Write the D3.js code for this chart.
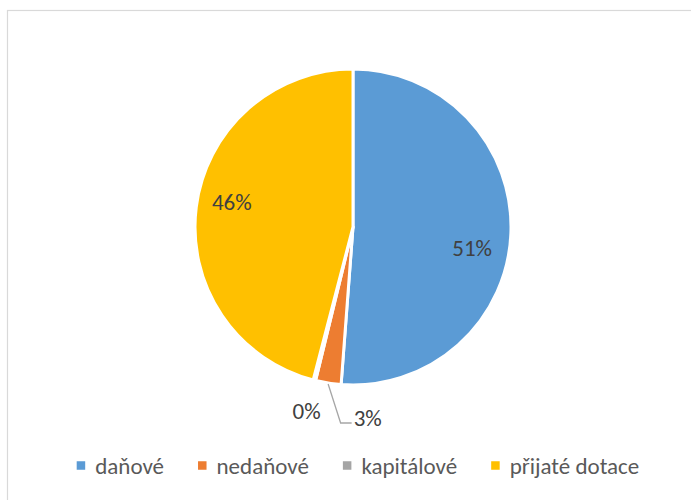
<!DOCTYPE html>
<html>
<head>
<meta charset="utf-8">
<script src="https://cdn.jsdelivr.net/npm/d3@7"></script>
<style>
  html, body { margin: 0; padding: 0; background: #ffffff; }
  svg { display: block; }
  text { font-family: Carlito, Calibri, Lato, "Open Sans", sans-serif; }
</style>
</head>
<body>
<svg id="chart" width="691" height="500"></svg>
<script>
// ---- data ----
const categories = ["daňové", "nedaňové", "kapitálové", "přijaté dotace"];
const values = [51.2, 2.6, 0.25, 45.95];
const labels = ["51%", "3%", "0%", "46%"];
const colors = ["#5b9bd5", "#ed7d31", "#a5a5a5", "#ffc000"];

// ---- layout ----
const W = 691, H = 500;
const cx = 353, cy = 227, R = 158;
const fontSize = 23;

const svg = d3.select("#chart");

// chart border (extends beyond the window on right / bottom)
svg.append("rect")
  .attr("x", 7.5).attr("y", 10.5)
  .attr("width", 720).attr("height", 520)
  .attr("fill", "none").attr("stroke", "#d9d9d9").attr("stroke-width", 1.2);

const color = d3.scaleOrdinal().domain(categories).range(colors);

const pie = d3.pie().sort(null).value(d => d.value);
const data = categories.map((c, i) => ({ name: c, value: values[i], label: labels[i] }));
const arcs = pie(data);

const arc = d3.arc().innerRadius(0).outerRadius(R);

const g = svg.append("g").attr("transform", `translate(${cx},${cy})`);

g.selectAll("path.slice")
  .data(arcs)
  .join("path")
  .attr("class", "slice")
  .attr("d", arc)
  .attr("fill", d => color(d.data.name))
  .attr("stroke", "#ffffff")
  .attr("stroke-width", 3)
  .attr("stroke-linejoin", "round");

// label placement rules (layout): polar position relative to slice mid-angle
const labelRules = {
  "daňové": { mode: "inside", r: 121, dAngle: 7.8 },
  "přijaté dotace": { mode: "inside", r: 123.7, dAngle: 4.2 },
  "kapitálové": { mode: "outside", r: 190, dAngle: 0 },
  "nedaňové": { mode: "leader", r: 0, dAngle: 0 }
};
const deg = Math.PI / 180;
function polar(angle, r) { return [r * Math.sin(angle), -r * Math.cos(angle)]; }

arcs.forEach(d => {
  const rule = labelRules[d.data.name];
  const mid = (d.startAngle + d.endAngle) / 2;
  if (rule.mode === "leader") {
    const p0 = polar(mid, R + 1);
    const elbow = [p0[0] + 12.5, 196];
    const p2 = [elbow[0] + 11, 196];
    g.append("polyline")
      .attr("points", [p0, elbow, p2].map(p => p.join(",")).join(" "))
      .attr("fill", "none").attr("stroke", "#a6a6a6").attr("stroke-width", 1.3);
    g.append("text")
      .attr("x", p2[0] + 2).attr("y", p2[1] - 5)
      .attr("dy", "0.35em")
      .attr("text-anchor", "start")
      .attr("font-size", fontSize)
      .attr("fill", "#404040")
      .text(d.data.label);
  } else {
    const p = polar(mid + rule.dAngle * deg, rule.r);
    g.append("text")
      .attr("x", p[0]).attr("y", p[1])
      .attr("dy", "0.35em")
      .attr("text-anchor", "middle")
      .attr("font-size", fontSize)
      .attr("fill", "#404040")
      .text(d.data.label);
  }
});

// ---- legend ----
const legend = svg.append("g");
const markerSize = 8.5, markerGap = 10, itemGap = 34;
const items = legend.selectAll("g.item").data(categories).join("g").attr("class", "item");
items.append("rect")
  .attr("width", markerSize).attr("height", markerSize)
  .attr("y", -markerSize / 2)
  .attr("fill", d => color(d));
items.append("text")
  .attr("x", markerSize + markerGap)
  .attr("y", 0)
  .attr("dy", "0.35em")
  .attr("font-size", fontSize)
  .attr("fill", "#595959")
  .text(d => d);

let x = 0;
const widths = [];
items.each(function () {
  const w = markerSize + markerGap + d3.select(this).select("text").node().getComputedTextLength();
  widths.push(w);
});
const total = d3.sum(widths) + itemGap * (widths.length - 1);
const startX = 358 - total / 2;
items.attr("transform", (d, i) => {
  const t = `translate(${startX + x},${465.5})`;
  x += widths[i] + itemGap;
  return t;
});
</script>
</body>
</html>
